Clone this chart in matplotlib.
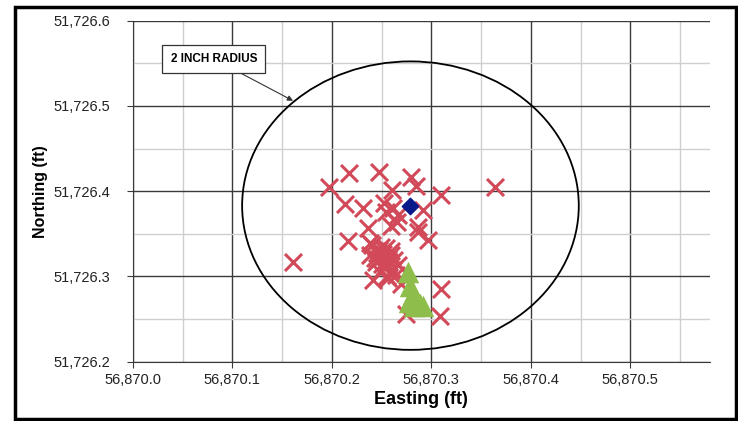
import matplotlib.pyplot as plt
import matplotlib.ticker as tick
from matplotlib.patches import Circle, Rectangle

# shot positions (ft)
shot_e = [56870.197, 56870.217, 56870.247, 56870.280, 56870.285, 56870.260, 56870.310,
          56870.364, 56870.213, 56870.231, 56870.252, 56870.261, 56870.292, 56870.265,
          56870.259, 56870.236, 56870.287, 56870.297, 56870.216, 56870.161, 56870.241,
          56870.256, 56870.269, 56870.310, 56870.309, 56870.275, 56870.240, 56870.247,
          56870.254, 56870.249, 56870.257, 56870.244, 56870.252, 56870.261, 56870.248,
          56870.255, 56870.264, 56870.238, 56870.259, 56870.266, 56870.238, 56870.266,
          56870.287, 56870.254, 56870.245, 56870.251, 56870.250, 56870.256, 56870.246,
          56870.253, 56870.259, 56870.243, 56870.262, 56870.249]
shot_n = [51726.405, 51726.421, 51726.423, 51726.416, 51726.406, 51726.401, 51726.396,
          51726.405, 51726.385, 51726.380, 51726.386, 51726.380, 51726.378, 51726.364,
          51726.359, 51726.357, 51726.352, 51726.343, 51726.342, 51726.317, 51726.296,
          51726.298, 51726.291, 51726.285, 51726.254, 51726.256, 51726.337, 51726.331,
          51726.333, 51726.322, 51726.317, 51726.317, 51726.310, 51726.308, 51726.305,
          51726.301, 51726.302, 51726.325, 51726.325, 51726.313, 51726.339, 51726.372,
          51726.358, 51726.376, 51726.328, 51726.326, 51726.314, 51726.320, 51726.320,
          51726.312, 51726.330, 51726.322, 51726.319, 51726.335]

# reference points (ft)
ref_e = [56870.277, 56870.279, 56870.282, 56870.285, 56870.278, 56870.289, 56870.283, 56870.292]
ref_n = [51726.305, 51726.289, 51726.279, 51726.272, 51726.270, 51726.268, 51726.265, 51726.265]

# target centre and 2 inch radius (ft)
center_e = 56870.279
center_n = 51726.383
radius = 2 / 12

fig = plt.figure(figsize=(7.38, 4.21), dpi=100)
plt.rcParams["font.family"] = ["Liberation Sans", "DejaVu Sans"]
ax = fig.add_axes([0.180, 0.141, 0.782, 0.810])

ax.set_xlim(56870.0, 56870.58)
ax.set_ylim(51726.2, 51726.6)
ax.xaxis.set_major_locator(tick.MultipleLocator(0.1))
ax.xaxis.set_minor_locator(tick.MultipleLocator(0.05))
ax.yaxis.set_major_locator(tick.MultipleLocator(0.1))
ax.yaxis.set_minor_locator(tick.MultipleLocator(0.05))
fmt = tick.StrMethodFormatter("{x:,.1f}")
ax.xaxis.set_major_formatter(fmt)
ax.yaxis.set_major_formatter(fmt)

ax.grid(True, which="major", color="#3a3a3a", lw=1.0)
ax.grid(True, which="minor", color="#cfcfcf", lw=1.0)
ax.set_axisbelow(True)
for s in ["top", "right"]:
    ax.spines[s].set_visible(False)
for s in ["left", "bottom"]:
    ax.spines[s].set_color("#3a3a3a")
ax.tick_params(which="minor", length=0)
ax.tick_params(axis="y", length=4, pad=12, labelsize=10.5, colors="#222222", color="#3a3a3a")
ax.tick_params(axis="x", length=4, pad=4, labelsize=10.5, colors="#222222", color="#3a3a3a")

ax.add_patch(Circle((center_e, center_n), radius * 1.015, fill=False, ec="black", lw=1.3,
                    zorder=2))

ax.scatter(shot_e, shot_n, marker="x", s=150, c="#d2495a", linewidths=2.2, zorder=3)
ax.scatter(ref_e, ref_n, marker="^", s=240, c="#8fbd4c", linewidths=0, zorder=4)
ax.scatter([center_e], [center_n], marker="D", s=70, c="#0a1a8a", zorder=5)

ax.annotate("2 INCH RADIUS", xy=(56870.161, 51726.506), xytext=(56870.0815, 51726.555),
            fontsize=8.5, fontweight="bold", ha="center", va="center",
            bbox=dict(boxstyle="square,pad=0.7", fc="white", ec="#333333", lw=0.9),
            arrowprops=dict(arrowstyle="-|>", color="#333333", lw=0.8,
                            mutation_scale=8, shrinkA=0, shrinkB=0),
            zorder=6)

ax.set_xlabel("Easting (ft)", fontsize=13, fontweight="bold", labelpad=3)
ax.set_ylabel("Northing (ft)", fontsize=11.5, fontweight="bold", labelpad=4)

fig.patches.append(Rectangle((0.020, 0.005), 0.977, 0.978, transform=fig.transFigure,
                             fill=False, ec="black", lw=2.5))

fig.savefig("out.png", dpi=100)
